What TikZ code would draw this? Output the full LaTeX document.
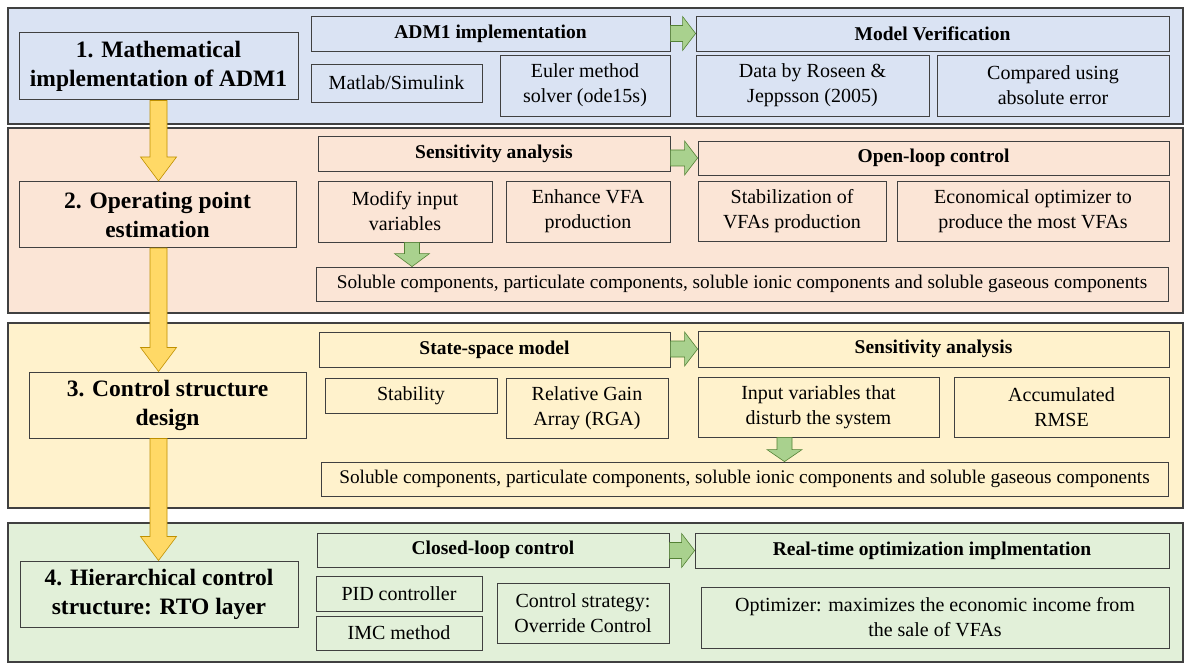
\documentclass[tikz,border=0pt]{standalone}
\usepackage{fontspec}
\setmainfont{Liberation Serif}
\usetikzlibrary{calc}
\definecolor{pblue}{HTML}{DAE3F3}
\definecolor{ppeach}{HTML}{FBE5D6}
\definecolor{pyellow}{HTML}{FFF2CC}
\definecolor{pgreen}{HTML}{E2F0D9}
\definecolor{edgec}{HTML}{404040}
\definecolor{ayfill}{HTML}{FFD966}
\definecolor{ayline}{HTML}{BF9000}
\definecolor{agfill}{HTML}{A9D18E}
\definecolor{agline}{HTML}{548235}
\newcommand{\bodyf}{\fontsize{20}{25}\selectfont}
\newcommand{\titlef}{\fontsize{23.5}{29}\selectfont\bfseries}
\newcommand{\headf}{\fontsize{19.5}{24}\selectfont\bfseries}
\newcommand{\barf}{\fontsize{19.3}{23}\selectfont}
\newcommand{\HArrowBlk}[2]{%
  \coordinate (ht) at (#2);
  \coordinate (hs) at (#1 |- ht);
  \draw[garrow] ($(hs)+(0,-8)$) -- ($(ht)+(-13,-8)$) -- ($(ht)+(-13,-17)$) -- (ht)
     -- ($(ht)+(-13,17)$) -- ($(ht)+(-13,8)$) -- ($(hs)+(0,8)$) -- cycle;}
\newcommand{\VArrowBlk}[6]{%
  \coordinate (vs) at (#1);
  \coordinate (vt) at (vs |- #2);
  \draw[#3] ($(vs)+(-#4,0)$) -- ($(vt)+(-#4,-#6)$) -- ($(vt)+(-#5,-#6)$) -- (vt)
     -- ($(vt)+(#5,-#6)$) -- ($(vt)+(#4,-#6)$) -- ($(vs)+(#4,0)$) -- cycle;}
\begin{document}
\begin{tikzpicture}[x=1pt,y=-1pt,
  box/.style={draw=edgec, line width=0.8pt, align=center, inner sep=1pt, font=\bodyf},
  titlebox/.style={box, line width=1pt, font=\titlef},
  headbox/.style={box, font=\headf},
  barbox/.style={box, font=\barf},
  panel/.style={draw=edgec, line width=1.2pt},
  yarrow/.style={fill=ayfill, draw=ayline, line width=0.6pt},
  garrow/.style={fill=agfill, draw=agline, line width=0.6pt}]
\useasboundingbox (0,0) rectangle (1186,663);
\fill[white] (0,0) rectangle (1186,663);
% panels
\draw[panel, fill=pblue]   (8,8)   rectangle (1183,124);
\draw[panel, fill=ppeach]  (8,128) rectangle (1183,313);
\draw[panel, fill=pyellow] (8,323) rectangle (1183,508);
\draw[panel, fill=pgreen]  (8,523) rectangle (1183,662);
% panel 1
\begin{scope}[every node/.append style={fill=pblue}]
\node[titlebox, minimum width=279pt, minimum height=67pt] (t1) at (158.5,66.5) {1. Mathematical\\implementation of ADM1};
\node[headbox, minimum width=359pt, minimum height=35pt] (h1a) at (490.5,33.5) {ADM1 implementation};
\node[headbox, minimum width=473pt, minimum height=35pt] (h1b) at (932.5,33.5) {Model Verification};
\node[box, minimum width=171pt, minimum height=38pt] (b11) at (396.5,83) {Matlab/Simulink};
\node[box, minimum width=170pt, minimum height=61pt] (b12) at (585,85.5) {Euler method\\solver (ode15s)};
\node[box, minimum width=233pt, minimum height=61pt] (b13) at (812.5,85.5) {Data by Roseen \&\\Jeppsson (2005)};
\node[box, minimum width=232pt, minimum height=61pt] (b14) at (1053,85.5) {Compared using\\absolute error};
\end{scope}
% panel 2
\begin{scope}[every node/.append style={fill=ppeach}]
\node[titlebox, minimum width=277pt, minimum height=66pt] (t2) at (157.5,214.5) {2. Operating point\\estimation};
\node[headbox, minimum width=352pt, minimum height=35pt] (h2a) at (494,153.5) {Sensitivity analysis};
\node[headbox, minimum width=471pt, minimum height=34pt] (h2b) at (933.5,158) {Open-loop control};
\node[box, minimum width=174pt, minimum height=61pt] (b21) at (405,211.5) {Modify input\\variables};
\node[box, minimum width=164pt, minimum height=61pt] (b22) at (588,211.5) {Enhance VFA\\production};
\node[box, minimum width=188pt, minimum height=60pt] (b23) at (792,211) {Stabilization of\\VFAs production};
\node[box, minimum width=272pt, minimum height=60pt] (b24) at (1033,211) {Economical optimizer to\\produce the most VFAs};
\node[barbox, minimum width=852pt, minimum height=34pt] (bar2) at (742,284) {Soluble components, particulate components, soluble ionic components and soluble gaseous components};
\end{scope}
% panel 3
\begin{scope}[every node/.append style={fill=pyellow}]
\node[titlebox, minimum width=277pt, minimum height=66pt] (t3) at (167.5,405) {3. Control structure\\design};
\node[headbox, minimum width=351pt, minimum height=35pt] (h3a) at (494.5,349.5) {State-space model};
\node[headbox, minimum width=471pt, minimum height=36pt] (h3b) at (933.5,349) {Sensitivity analysis};
\node[box, minimum width=172pt, minimum height=35pt] (b31) at (411,395.5) {Stability};
\node[box, minimum width=162pt, minimum height=60pt] (b32) at (587,408) {Relative Gain\\Array (RGA)};
\node[box, minimum width=241pt, minimum height=60pt] (b33) at (818.5,407) {Input variables that\\disturb the system};
\node[box, minimum width=215pt, minimum height=60pt] (b34) at (1061.5,407) {Accumulated\\RMSE};
\node[barbox, minimum width=847pt, minimum height=34pt] (bar3) at (744.5,479) {Soluble components, particulate components, soluble ionic components and soluble gaseous components};
\end{scope}
% panel 4
\begin{scope}[every node/.append style={fill=pgreen}]
\node[titlebox, minimum width=278pt, minimum height=66pt] (t4) at (159,594) {4. Hierarchical control\\structure: RTO layer};
\node[headbox, minimum width=352pt, minimum height=34pt] (h4a) at (493,550) {Closed-loop control};
\node[headbox, minimum width=474pt, minimum height=35pt] (h4b) at (932,550.5) {Real-time optimization implmentation};
\node[box, minimum width=166pt, minimum height=35pt] (b41) at (399,593.5) {PID controller};
\node[box, minimum width=166pt, minimum height=34pt] (b42) at (399,633) {IMC method};
\node[box, minimum width=172pt, minimum height=60pt] (b43) at (583,613) {Control strategy:\\Override Control};
\node[box, minimum width=468pt, minimum height=61pt] (b44) at (935,617.5) {Optimizer: maximizes the economic income from\\the sale of VFAs};
\end{scope}
% yellow arrows between stages
\VArrowBlk{t1.south}{t2.north}{yarrow}{8.5}{18}{24}
\VArrowBlk{t1.south |- t2.south}{t3.north}{yarrow}{8.5}{18}{24}
\VArrowBlk{t1.south |- t3.south}{t4.north}{yarrow}{8.5}{18}{24}
% green right arrows
\HArrowBlk{h1a.east}{h1b.west}
\HArrowBlk{h2a.east}{h2b.west}
\HArrowBlk{h3a.east}{h3b.west}
\HArrowBlk{h4a.east}{h4b.west}
% green down arrows
\coordinate (d2) at ([xshift=7pt]b21.south);
\VArrowBlk{d2}{bar2.north}{garrow}{7.5}{17.5}{13}
\coordinate (d3) at ([xshift=-34pt]b33.south);
\VArrowBlk{d3}{bar3.north}{garrow}{7.5}{17.5}{12}
\end{tikzpicture}
\end{document}
